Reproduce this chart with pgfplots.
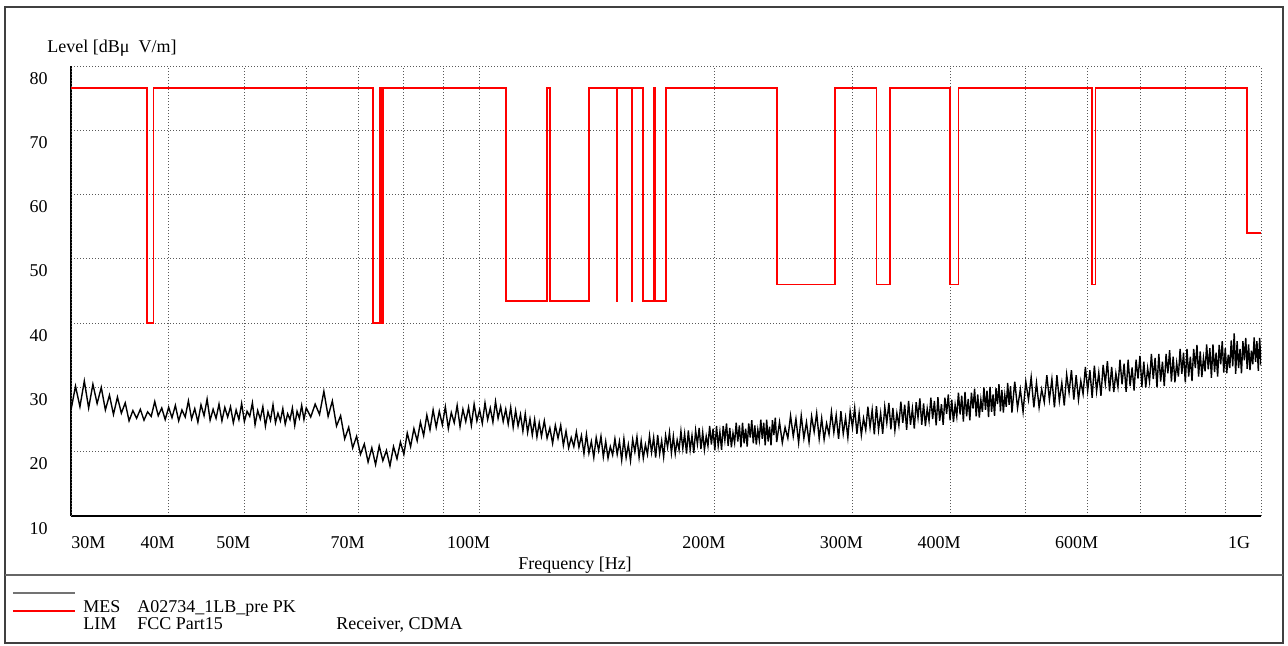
\documentclass[border=0pt]{standalone}
\usepackage{fontspec}
\setmainfont{Liberation Serif}
\usepackage{pgfplots}
\pgfplotsset{compat=1.18}

\definecolor{gridc}{gray}{0.35}
\definecolor{framec}{gray}{0.25}

\begin{document}
\begin{tikzpicture}[font=\fontsize{9pt}{10pt}\selectfont]
\useasboundingbox (-35.5pt,-64.5pt) rectangle (608.5pt,258pt);
\begin{axis}[
  scale only axis, width=595pt, height=225pt,
  xmode=log, xmin=30, xmax=1000, ymin=10, ymax=80,
  axis x line*=bottom, axis y line*=left,
  axis line style={line width=0.75pt, black},
  /pgf/number format/assume math mode=true,
  ytick={10,20,...,80},
  xtick={40,50,70,100,200,300,400,600},
  xticklabels={40M,50M,70M,100M,200M,300M,400M,600M},
  minor xtick={60,80,90,500,700,800,900,1000},
  extra x ticks={30},
  extra x tick labels={30M},
  extra x tick style={xticklabel style={anchor=base west, xshift=5.5pt}},
  major tick length=0pt, minor tick length=0pt,
  grid=both,
  major grid style={gridc, line width=0.45pt, dash pattern=on 0.5pt off 1pt},
  minor grid style={gridc, line width=0.45pt, dash pattern=on 0.5pt off 1pt},
  tick label style={font=\fontsize{9pt}{10pt}\selectfont, inner sep=0pt},
  xticklabel style={anchor=base, xshift=-5.5pt, yshift=-16pt},
  yticklabel style={anchor=base east, xshift=-11.5pt, yshift=-9pt},
  clip=true,
]
% MES: measured peak trace (MHz, dBuV/m)
\addplot[black, line width=0.7pt] coordinates {
(30.0,26.5)(30.4,30.2)(30.8,27.0)(31.2,31.0)(31.6,26.8)(32.0,30.5)(32.4,27.5)(32.8,30.0)(33.2,26.5)(33.6,28.8)
(34.0,25.8)(34.4,28.5)(34.8,26.0)(35.2,27.6)(35.6,24.8)(36.0,26.4)(36.4,25.2)(36.8,26.6)(37.2,24.9)(37.6,26.2)
(38.0,25.5)(38.4,27.8)(38.8,25.6)(39.2,26.8)(39.6,25.0)(40.0,26.9)(40.4,25.3)(40.8,27.2)(41.2,24.8)(41.6,26.5)
(42.0,25.4)(42.4,27.9)(42.8,25.1)(43.2,26.7)(43.6,24.6)(44.0,27.3)(44.4,25.6)(44.8,28.2)(45.2,24.9)(45.6,26.6)
(46.0,25.2)(46.4,27.4)(46.8,24.8)(47.2,26.9)(47.6,25.4)(48.0,27.0)(48.4,24.5)(48.8,26.5)(49.2,25.0)(49.6,27.5)
(50.0,24.7)(50.4,26.3)(50.8,25.5)(51.2,27.6)(51.6,24.2)(52.0,26.4)(52.4,25.1)(52.8,27.0)(53.2,24.0)(53.6,26.2)
(54.0,24.9)(54.4,27.3)(54.8,24.5)(55.2,26.0)(55.6,24.8)(56.0,26.7)(56.4,24.3)(56.8,25.9)(57.2,25.0)(57.6,26.8)
(58.0,24.1)(58.4,26.3)(58.8,25.2)(59.2,27.2)(59.6,25.0)(60.0,26.8)
(60.8,25.4)(61.6,27.4)(62.4,25.8)(63.2,29.4)(64.0,25.5)(64.8,27.9)(65.6,24.0)(66.4,25.6)(67.2,22.0)(68.0,23.8)
(68.8,20.6)(69.6,22.4)(70.4,19.6)(71.2,21.2)(72.0,18.4)(72.8,20.6)(73.6,18.0)(74.4,20.9)(75.2,18.6)(76.0,20.2)
(76.8,17.8)(77.6,20.8)(78.4,18.9)(79.2,21.5)(80.0,19.6)(80.8,22.9)(81.6,20.8)(82.4,23.6)(83.2,21.7)(84.0,24.6)
(84.8,22.5)(85.6,25.7)(86.4,23.4)(87.2,26.5)(88.0,23.8)(88.8,26.3)(89.6,24.2)(90.4,27.0)(91.2,23.6)(92.0,26.1)
(92.8,24.5)(93.6,27.2)(94.4,23.9)(95.2,26.6)(96.0,24.7)(96.8,26.9)(97.6,24.1)(98.4,27.4)(99.2,24.8)(100.0,26.5)
(100.8,24.4)(101.6,27.6)(102.4,25.0)(103.2,26.8)(104.0,24.6)(104.8,27.8)(105.6,25.2)(106.4,27.0)(107.2,24.7)(108.0,26.6)
(108.8,24.3)(109.6,26.9)(110.4,23.8)(111.2,26.4)(112.0,24.0)(112.8,25.8)(113.6,23.2)(114.4,25.9)(115.2,23.0)(116.0,25.1)
(116.8,22.6)(117.6,25.0)(118.4,22.3)(119.2,24.5)(120.0,22.4)
(121,24.8)(122,22.1)(123,23.7)(124,21.3)(125,24.1)(126,22.1)(127,24.1)(128,21.0)(129,23.2)(130,20.6)
(131,22.2)(132,20.8)(133,23.1)(134,20.7)(135,22.5)(136,19.7)(137,22.7)(138,19.8)(139,21.6)(140,19.1)
(141,22.2)(142,20.2)(143,22.4)(144,19.2)(145,21.6)(146,19.0)(147,20.8)(148,19.5)(149,22.0)(150,19.6)
(151,21.6)(152,18.7)(153,22.0)(154,19.1)(155,21.1)(156,18.6)(157,21.9)(158,20.0)(159,22.3)(160,19.1)
(161,21.7)(162,19.0)(163,21.1)(164,19.6)(165,22.5)(166,19.9)(167,22.2)(168,19.1)(169,22.6)(170,19.7)
(171,21.7)(172,19.2)(173,22.5)(174,20.7)(175,23.0)(176,19.8)(177,22.4)(178,19.7)(179,21.8)(180,20.3)
(181,23.2)(182,20.5)(183,22.8)(184,19.7)(185,23.3)(186,20.3)(187,22.5)(188,19.8)(189,23.3)(190,21.2)
(191,23.7)(192,20.4)(193,23.0)(194,20.3)(195,22.4)(196,20.9)(197,24.0)(198,21.1)(199,23.6)(200,20.2)
(201,24.0)(202,20.9)(203,23.1)(204,20.3)(205,24.0)(206,21.8)(207,24.4)(208,20.9)(209,23.7)(210,20.7)
(211,22.9)(212,21.4)(213,24.5)(214,21.6)(215,24.1)(216,20.7)(217,24.5)(218,21.3)(219,23.6)(220,20.8)
(221,24.4)(222,22.2)(223,24.9)(224,21.3)(225,24.1)(226,21.1)(227,23.4)(228,21.8)(229,25.0)(230,22.0)
(231,24.5)(232,21.0)(233,25.0)(234,21.6)(235,23.9)(236,21.0)(237,24.9)(238,22.6)(239,25.3)(240,21.5)
(242,24.6)(244,21.4)(246,23.8)(248,22.1)(250,25.6)(252,22.4)(254,25.1)(256,21.4)(258,25.6)(260,22.1)
(262,24.6)(264,21.5)(266,25.5)(268,23.1)(270,26.0)(272,22.0)(274,25.2)(276,21.9)(278,24.4)(280,22.7)
(282,26.2)(284,23.0)(286,25.7)(288,22.0)(290,26.3)(292,22.8)(294,25.3)(296,22.2)(298,26.3)(300,23.8)
(302,26.8)(304,22.8)(306,26.0)(308,22.6)(310,25.2)(312,23.4)(314,27.0)(316,23.8)(318,26.5)(320,22.7)
(322,27.1)(324,23.4)(326,26.0)(328,22.8)(330,27.0)(332,24.5)(334,27.6)(336,23.5)(338,26.8)(340,23.3)
(342,26.0)(344,24.1)(346,27.8)(348,24.5)(350,27.3)(352,23.4)(354,27.9)(356,24.2)(358,26.7)(360,23.6)
(362,27.7)(364,25.3)(366,28.3)(368,24.2)(370,27.5)(372,24.0)(374,26.7)(376,24.8)(378,28.4)(380,25.1)
(382,27.9)(384,24.1)(386,28.5)(388,24.8)(390,27.4)(392,24.2)(394,28.4)(396,25.9)(398,28.9)(400,24.9)
(402,28.1)(404,24.6)(406,27.3)(408,25.5)(410,29.2)(412,25.8)(414,28.7)(416,24.7)(418,29.3)(420,25.5)
(422,28.2)(424,24.9)(426,29.2)(428,26.7)(430,29.8)(432,25.5)(434,28.9)(436,25.3)(438,28.1)(440,26.2)
(442,30.0)(444,26.5)(446,29.5)(448,25.4)(450,30.1)(452,26.2)(454,28.9)(456,25.6)(458,29.9)(460,27.4)
(462,30.5)(464,26.3)(466,29.6)(468,26.1)(470,28.8)(472,27.0)(474,30.7)(476,27.3)(478,30.2)(480,26.1)
(484,30.9)(488,26.8)(492,29.7)(496,26.2)(500,30.9)(504,28.1)(508,31.6)(512,26.9)(516,30.7)(520,26.9)
(524,29.7)(528,27.7)(532,31.9)(536,28.1)(540,31.3)(544,26.9)(548,31.9)(552,27.9)(556,30.7)(560,27.2)
(564,32.0)(568,29.2)(572,32.7)(576,28.1)(580,31.9)(584,28.1)(588,31.0)(592,29.0)(596,33.2)(600,29.5)
(604,32.7)(608,28.4)(612,33.4)(616,29.4)(620,32.3)(624,28.7)(628,33.5)(632,30.6)(636,34.1)(640,29.4)
(644,33.2)(648,29.3)(652,32.2)(656,30.1)(660,34.3)(664,30.5)(668,33.7)(672,29.3)(676,34.3)(680,30.2)
(684,33.1)(688,29.5)(692,34.3)(696,31.4)(700,34.9)(704,30.1)(708,34.0)(712,30.0)(716,33.0)(720,30.9)
(724,35.2)(728,31.3)(732,34.6)(736,30.0)(740,35.2)(744,30.9)(748,34.0)(752,30.2)(756,35.2)(760,32.2)
(764,35.8)(768,30.9)(772,34.8)(776,30.8)(780,33.8)(784,31.7)(788,36.0)(792,32.1)(796,35.4)(800,30.8)
(804,36.0)(808,31.7)(812,34.8)(816,31.0)(820,36.0)(824,33.0)(828,36.6)(832,31.7)(836,35.6)(840,31.6)
(844,34.6)(848,32.5)(852,36.7)(856,32.8)(860,36.1)(864,31.5)(868,36.7)(872,32.4)(876,35.4)(880,31.7)
(884,36.6)(888,33.6)(892,37.2)(896,32.3)(900,36.1)(904,32.2)(908,35.1)(912,33.0)(916,37.3)(920,33.3)
(924,38.4)(928,32.1)(932,37.2)(936,33.0)(940,36.0)(944,32.2)(948,37.2)(952,34.2)(956,37.7)(960,32.9)
(964,36.7)(968,32.7)(972,35.7)(976,33.6)(980,37.8)(984,34.0)(988,37.2)(992,32.6)(996,37.7)(1000,33.4)
};
% LIM: FCC Part15 limit line
\addplot[red, line width=0.9pt] coordinates {
(30,76.6)(37.5,76.6)(37.5,40)(38.25,40)(38.25,76.6)
(73,76.6)(73,40)(74.6,40)(74.6,76.6)(74.8,76.6)(74.8,40)(75.2,40)(75.2,76.6)
(108,76.6)(108,43.5)(121.94,43.5)(121.94,76.6)(123,76.6)(123,43.5)(138,43.5)(138,76.6)
(149.9,76.6)(149.9,43.5)(150.05,43.5)(150.05,76.6)
(156.52475,76.6)(156.52475,43.5)(156.52525,43.5)(156.52525,76.6)
(156.7,76.6)(156.7,43.5)(156.9,43.5)(156.9,76.6)
(162.0125,76.6)(162.0125,43.5)(167.17,43.5)(167.17,76.6)(167.72,76.6)(167.72,43.5)(173.2,43.5)(173.2,76.6)
(240,76.6)(240,46)(285,46)(285,76.6)
(322,76.6)(322,46)(335.4,46)(335.4,76.6)
(399.9,76.6)(399.9,46)(410,46)(410,76.6)
(608,76.6)(608,46)(614,46)(614,76.6)
(960,76.6)(960,54)(1000,54)
};
\end{axis}
% tick label at the right end
\node[anchor=base, inner sep=0pt] at (584pt,-16pt) {1G};
% axis titles
\node[anchor=base west, inner sep=0pt] at (-12pt,232pt) {Level [dBμ\ \ V/m]};
\node[anchor=base, inner sep=0pt] at (252pt,-26.5pt) {Frequency [Hz]};
% frame and divider
\draw[framec, line width=0.75pt] (-33pt,-63.5pt) rectangle (606pt,254.5pt);
\draw[black!60, line width=1pt] (-33pt,-29.25pt) -- (606pt,-29.25pt);
% legend
\draw[black!55, line width=0.6pt] (-29pt,-38.5pt) -- (2pt,-38.5pt);
\draw[red, line width=0.9pt] (-29pt,-47.5pt) -- (2pt,-47.5pt);
\node[anchor=base west, inner sep=0pt] at (6pt,-48pt) {MES};
\node[anchor=base west, inner sep=0pt] at (33pt,-48pt) {A02734\_1LB\_pre PK};
\node[anchor=base west, inner sep=0pt] at (6pt,-56.5pt) {LIM};
\node[anchor=base west, inner sep=0pt] at (33pt,-56.5pt) {FCC Part15};
\node[anchor=base west, inner sep=0pt] at (132.5pt,-56.5pt) {Receiver, CDMA};
\end{tikzpicture}
\end{document}
